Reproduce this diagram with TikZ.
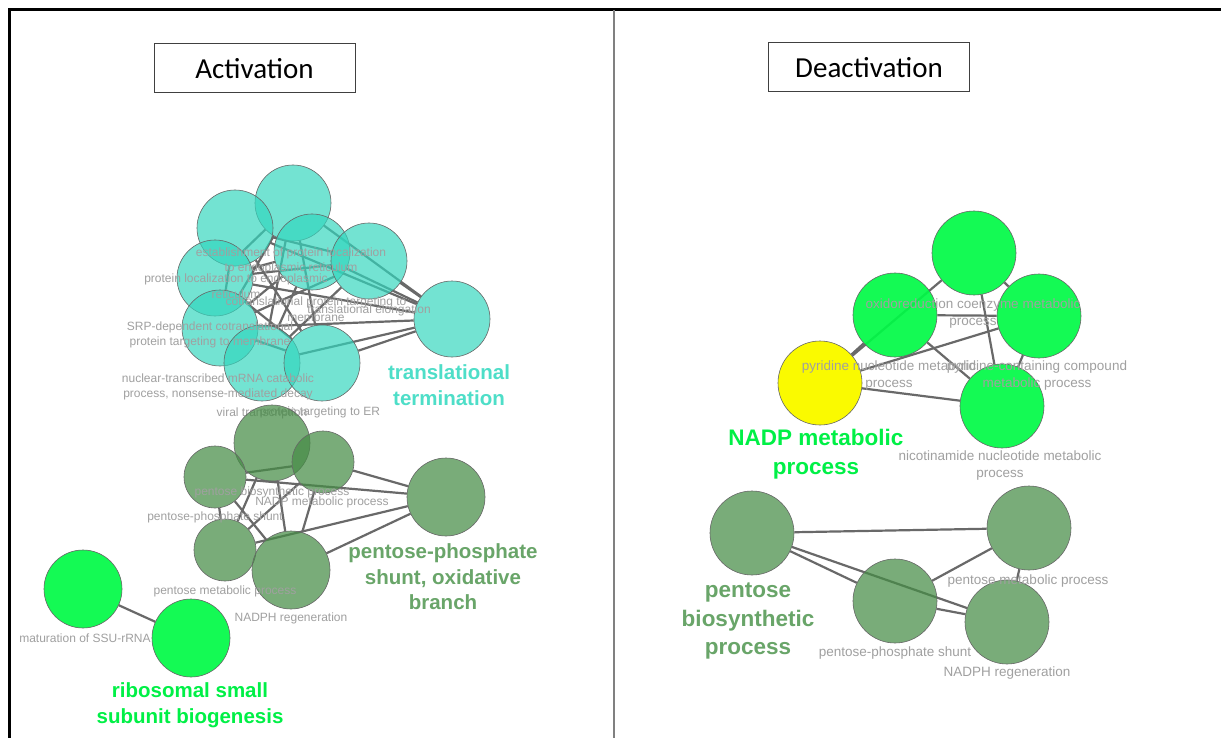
\documentclass[tikz,border=0pt]{standalone}
\usepackage{fontspec}
\setmainfont{Liberation Sans}
\newfontfamily\boxfont{Carlito}
\usepackage{tikz}
\usetikzlibrary{backgrounds}
\usetikzlibrary{positioning}

\definecolor{tealnode}{RGB}{50,215,190}
\definecolor{sagenode}{RGB}{70,140,70}
\definecolor{limenode}{RGB}{0,250,70}
\definecolor{goldnode}{RGB}{250,250,0}
\definecolor{tealtext}{RGB}{78,222,200}
\definecolor{sagetext}{RGB}{105,165,105}
\definecolor{limetext}{RGB}{0,240,70}
\definecolor{termgray}{RGB}{160,160,160}
\definecolor{linkgray}{RGB}{105,105,105}

\begin{document}
\begin{tikzpicture}[x=1pt, y=-1pt]
    \tikzstyle{term} = [circle, draw=black!60, line width=0.6pt, inner sep=0pt];
    \tikzstyle{teal-term} = [term, fill=tealnode, fill opacity=0.68, minimum size=76pt];
    \tikzstyle{sage-term} = [term, fill=sagenode, fill opacity=0.72];
    \tikzstyle{lime-term} = [term, fill=limenode, fill opacity=0.92];
    \tikzstyle{gold-term} = [term, fill=goldnode, minimum size=84pt];
    \tikzstyle{term-name} = [text=termgray, align=center, inner sep=0pt, font=\fontsize{12}{15.5}\selectfont];
    \tikzstyle{term-name-r} = [term-name, font=\fontsize{13.5}{17}\selectfont];
    \tikzstyle{lead} = [align=center, inner sep=0pt, font=\bfseries\fontsize{20.5}{25.5}\selectfont];
    \tikzstyle{lead-r} = [lead, font=\bfseries\fontsize{22.5}{28.5}\selectfont];
    \tikzstyle{link} = [-, draw=linkgray, line width=2.2pt];
    \tikzstyle{title-box} = [draw=black!75, line width=1pt, fill=white, minimum width=201pt, minimum height=49pt, font=\boxfont\fontsize{29}{32}\selectfont];

    \useasboundingbox (0,0) rectangle (1221,738);

    % frame and divider
    \draw[line width=3pt] (9,738) -- (9,10) -- (1221,10);
    \draw[black!50, line width=1.5pt] (614,10) -- (614,738);

    \node[title-box] (title-act) at (254.5,68.5) {Activation};
    \node[title-box] (title-deact) at (869,67.5) {Deactivation};

    % activation: translation cluster
    \node[teal-term] (t-1) at (293,203) {};
    \node[teal-term] (t-2) at (235,228) {};
    \node[teal-term] (t-3) at (312,252) {};
    \node[teal-term] (t-4) at (369,261) {};
    \node[teal-term] (t-5) at (452,319) {};
    \node[teal-term] (t-6) at (215,278) {};
    \node[teal-term] (t-7) at (220,328) {};
    \node[teal-term] (t-8) at (262,363) {};
    \node[teal-term] (t-9) at (322,363) {};

    \node[term-name] (t-1-name) at (291,261) {establishment of protein localization\\to endoplasmic reticulum};
    \node[term-name] (t-6-name) at (236,286) {protein localization to endoplasmic\\reticulum};
    \node[term-name] (t-3-name) at (316,309) {cotranslational protein targeting to\\membrane};
    \node[term-name] (t-4-name) at (369,310) {translational elongation};
    \node[term-name] (t-7-name) at (210,335) {SRP-dependent cotranslational\\protein targeting to membrane};
    \node[term-name] (t-8-name) at (218,387) {nuclear-transcribed mRNA catabolic\\process, nonsense-mediated decay};
    \node[term-name] (t-9-name) at (262,413) {viral transcription};
    \node[term-name] (t-2-name) at (320,412) {protein targeting to ER};
    \node[lead, text=tealtext] (t-lead) at (449,385) {translational\\termination};

    % activation: pentose-phosphate cluster
    \node[sage-term, minimum size=76pt] (p-1) at (272,443) {};
    \node[sage-term, minimum size=62pt] (p-2) at (215,477) {};
    \node[sage-term, minimum size=62pt] (p-3) at (323,462) {};
    \node[sage-term, minimum size=78pt] (p-4) at (446,497) {};
    \node[sage-term, minimum size=62pt] (p-5) at (225,550) {};
    \node[sage-term, minimum size=78pt] (p-6) at (291,570) {};

    \node[term-name] (p-2-name) at (272,492) {pentose biosynthetic process};
    \node[term-name] (p-3-name) at (322,502) {NADP metabolic process};
    \node[term-name] (p-1-name) at (215,517) {pentose-phosphate shunt};
    \node[term-name] (p-5-name) at (225,591) {pentose metabolic process};
    \node[term-name] (p-6-name) at (291,618) {NADPH regeneration};
    \node[lead, text=sagetext] (p-lead) at (443,577) {pentose-phosphate\\shunt, oxidative\\branch};

    % activation: ribosome cluster
    \node[lime-term, minimum size=78pt] (r-1) at (83,589) {};
    \node[lime-term, minimum size=78pt] (r-2) at (191,638) {};
    \node[term-name] (r-1-name) at (85,638) {maturation of SSU-rRNA};
    \node[lead, text=limetext] (r-lead) at (190,705) {ribosomal small\\subunit biogenesis};

    % deactivation: NADP cluster
    \node[lime-term, minimum size=84pt] (n-1) at (974,253) {};
    \node[lime-term, minimum size=84pt] (n-2) at (895,315) {};
    \node[lime-term, minimum size=84pt] (n-3) at (1039,316) {};
    \node[gold-term] (n-4) at (820,383) {};
    \node[lime-term, minimum size=84pt] (n-5) at (1002,406) {};

    \node[term-name-r] (n-2-name) at (973,314) {oxidoreduction coenzyme metabolic\\process};
    \node[term-name-r] (n-4-name) at (889,376) {pyridine nucleotide metabolic\\process};
    \node[term-name-r] (n-3-name) at (1037,376) {pyridine-containing compound\\metabolic process};
    \node[term-name-r] (n-5-name) at (1000,466) {nicotinamide nucleotide metabolic\\process};
    \node[lead-r, text=limetext] (n-lead) at (816,454) {NADP metabolic\\process};

    % deactivation: pentose cluster
    \node[sage-term, minimum size=84pt] (q-1) at (752,533) {};
    \node[sage-term, minimum size=84pt] (q-2) at (1029,528) {};
    \node[sage-term, minimum size=84pt] (q-3) at (895,601) {};
    \node[sage-term, minimum size=84pt] (q-4) at (1007,622) {};

    \node[term-name-r] (q-2-name) at (1028,581) {pentose metabolic process};
    \node[term-name-r] (q-3-name) at (895,653) {pentose-phosphate shunt};
    \node[term-name-r] (q-4-name) at (1007,673) {NADPH regeneration};
    \node[lead-r, text=sagetext] (q-lead) at (748,621) {pentose\\biosynthetic\\process};

    \begin{scope}[on background layer]
        \fill[white] (0,0) rectangle (1221,738);
        \foreach \a/\b in {5/1,5/2,5/3,5/4,5/6,5/7,5/8,5/9,1/6,1/7,1/8,1/9,2/9,2/4,2/7,3/6,3/7,3/8,4/6,4/7,4/8,6/9,7/9}
            \draw [link] (t-\a) -- (t-\b);
        \foreach \a/\b in {2/3,2/4,3/4,2/5,2/6,3/5,1/6,3/6,5/4,6/4,1/5}
            \draw [link] (p-\a) -- (p-\b);
        \draw [link] (r-1) -- (r-2);
        \foreach \a/\b in {4/1,4/2,4/3,4/5,2/3,2/5,1/5,3/5,1/3}
            \draw [link] (n-\a) -- (n-\b);
        \foreach \a/\b in {1/2,1/3,1/4,3/2,3/4,2/4}
            \draw [link] (q-\a) -- (q-\b);
    \end{scope}
\end{tikzpicture}
\end{document}
